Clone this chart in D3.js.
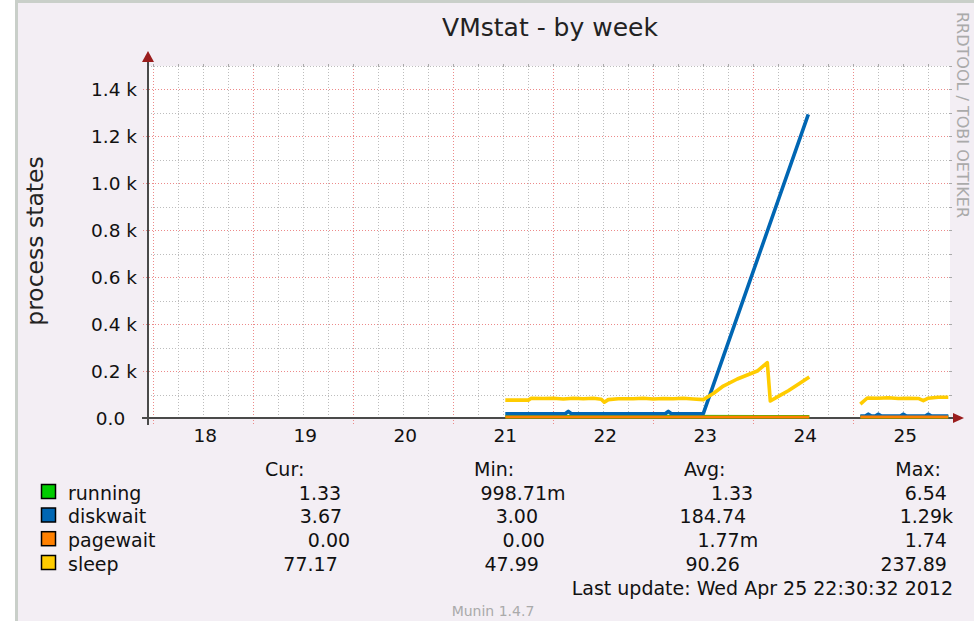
<!DOCTYPE html>
<html>
<head>
<meta charset="utf-8">
<script src="https://cdn.jsdelivr.net/npm/d3@7"></script>
<style>
  body { margin: 0; background: #fff; }
  text { font-family: "DejaVu Sans", sans-serif; }
</style>
</head>
<body>
<div id="chart"></div>
<script>
const dayTicks = [18, 19, 20, 21, 22, 23, 24, 25];
const valueTicks = [0, 200, 400, 600, 800, 1000, 1200, 1400];
const seriesNames = ["running", "diskwait", "pagewait", "sleep"];
const seriesColors = ["#00cc00", "#0066b3", "#ff8000", "#ffcc00"];
const columnHeads = ["Cur:", "Min:", "Avg:", "Max:"];
const curValues = [1.33, 3.67, 0, 77.17];
const minValues = [0.99871, 3.00, 0, 47.99];
const avgValues = [1.33, 184.74, 0.00177, 90.26];
const maxValues = [6.54, 1290, 1.74, 237.89];
const lastUpdate = "Last update: Wed Apr 25 22:30:32 2012";

// [day of month, value]; null = no data
const running = [[21.02, 1.3], [22.5, 1.4], [24.06, 1.3], [24.3, null], [24.57, 1.3], [25.45, 1.33]];
const diskwait = [
  [21.02, 14], [21.62, 14], [21.65, 24], [21.68, 14], [22.62, 14], [22.65, 24], [22.68, 14],
  [23.0, 14], [24.05, 1290], [24.3, null],
  [24.57, 3.7], [24.62, 3.7], [24.65, 12], [24.68, 3.7], [24.72, 3.7], [24.75, 12], [24.78, 3.7],
  [24.97, 3.7], [25.0, 12], [25.03, 3.7], [25.22, 3.7], [25.25, 12], [25.28, 3.7], [25.45, 3.67]
];
const pagewait = [[21.02, 0], [24.06, 0], [24.3, null], [24.57, 0], [25.45, 0]];
const sleep = [
  [21.02, 72], [21.25, 72], [21.28, 80], [21.4, 79], [21.5, 80], [21.6, 77], [21.7, 80],
  [21.8, 78], [21.9, 80], [21.98, 76], [22.01, 63], [22.05, 74], [22.15, 78], [22.3, 78],
  [22.4, 80], [22.5, 77], [22.6, 79], [22.7, 78], [22.8, 80], [22.9, 77], [23.0, 74],
  [23.1, 100], [23.2, 132], [23.34, 162], [23.54, 196], [23.64, 232], [23.67, 68],
  [23.75, 88], [23.85, 112], [23.95, 140], [24.06, 170], [24.3, null],
  [24.57, 55], [24.64, 81], [24.75, 80], [24.85, 82], [24.95, 79], [25.05, 80], [25.15, 79],
  [25.2, 70], [25.25, 80], [25.35, 84], [25.45, 84]
];
const seriesData = [running, diskwait, pagewait, sleep];

const width = 974, height = 621;
const plot = {left: 148, right: 950, top: 66, bottom: 418};

const svg = d3.select("#chart").append("svg")
    .attr("width", width)
    .attr("height", height)
    .style("display", "block");

// frame + background
svg.append("rect").attr("x", 15).attr("y", 0).attr("width", width - 15).attr("height", height).attr("fill", "#c9cfc9");
svg.append("rect").attr("x", 18).attr("y", 3).attr("width", width - 18).attr("height", height - 3).attr("fill", "#f3eef4");

const x = d3.scaleLinear().domain([17.447, 25.467]).range([plot.left, plot.right]);
const y = d3.scaleLinear().domain([0, 1500]).range([plot.bottom, plot.top]);

svg.append("rect")
    .attr("x", plot.left).attr("y", plot.top)
    .attr("width", plot.right - plot.left).attr("height", plot.bottom - plot.top)
    .attr("fill", "#fff");

// grid
const grid = svg.append("g").attr("stroke-width", 1).attr("stroke-dasharray", "1,2");
const minorX = d3.range(17.5, 25.5, 0.25).filter(d => Math.abs(d % 1 - 0.5) > 0.01);
const majorX = d3.range(17.5, 25.4, 1);
const minorY = d3.range(100, 1501, 200);
const majorY = valueTicks.filter(v => v > 0);

grid.selectAll(".vx").data(minorX).join("line")
    .attr("x1", d => Math.round(x(d)) + 0.5).attr("x2", d => Math.round(x(d)) + 0.5)
    .attr("y1", plot.top).attr("y2", plot.bottom)
    .attr("stroke", "#bdbdbd");
grid.selectAll(".hy").data(minorY).join("line")
    .attr("x1", plot.left).attr("x2", plot.right)
    .attr("y1", d => Math.round(y(d)) + 0.5).attr("y2", d => Math.round(y(d)) + 0.5)
    .attr("stroke", "#bdbdbd");
grid.selectAll(".vX").data(majorX).join("line")
    .attr("x1", d => Math.round(x(d)) + 0.5).attr("x2", d => Math.round(x(d)) + 0.5)
    .attr("y1", plot.top).attr("y2", plot.bottom + 6)
    .attr("stroke", "#ec8a8a");
grid.selectAll(".hY").data(majorY).join("line")
    .attr("x1", plot.left - 5).attr("x2", plot.right)
    .attr("y1", d => Math.round(y(d)) + 0.5).attr("y2", d => Math.round(y(d)) + 0.5)
    .attr("stroke", "#ec8a8a");

// small solid ticks at the grid ends
const ticks = svg.append("g").attr("stroke", "#aaa").attr("stroke-width", 1);
ticks.selectAll(".t1").data(minorX.concat(majorX)).join("line")
    .attr("x1", d => Math.round(x(d)) + 0.5).attr("x2", d => Math.round(x(d)) + 0.5)
    .attr("y1", plot.top - 2).attr("y2", plot.top + 1);
ticks.selectAll(".t2").data(minorY.concat(majorY)).join("line")
    .attr("x1", plot.right - 1).attr("x2", plot.right + 2)
    .attr("y1", d => Math.round(y(d)) + 0.5).attr("y2", d => Math.round(y(d)) + 0.5);

// axes
const axisColor = "#4a4a4a", arrowColor = "#9a1d1d";
svg.append("line")
    .attr("x1", plot.left - 6).attr("x2", plot.right + 4)
    .attr("y1", plot.bottom).attr("y2", plot.bottom)
    .attr("stroke", axisColor).attr("stroke-width", 2);
svg.append("line")
    .attr("x1", plot.left).attr("x2", plot.left)
    .attr("y1", plot.bottom + 7).attr("y2", plot.top - 8)
    .attr("stroke", axisColor).attr("stroke-width", 2);
svg.append("path")
    .attr("d", `M${plot.right + 3},${plot.bottom - 5}L${plot.right + 14},${plot.bottom}L${plot.right + 3},${plot.bottom + 5}Z`)
    .attr("fill", arrowColor);
svg.append("path")
    .attr("d", `M${plot.left - 6},${plot.top - 4}L${plot.left},${plot.top - 15}L${plot.left + 6},${plot.top - 4}Z`)
    .attr("fill", arrowColor);

// tick labels
svg.append("g").selectAll("text").data(dayTicks).join("text")
    .attr("x", d => x(d) + 2)
    .attr("y", plot.bottom + 24)
    .attr("text-anchor", "middle")
    .attr("font-size", 18.5)
    .attr("fill", "#111")
    .text(d => d);

svg.append("g").selectAll("text").data(valueTicks).join("text")
    .attr("xml:space", "preserve")
    .style("white-space", "pre")
    .attr("x", plot.left - 11)
    .attr("y", d => y(d) + 6.5)
    .attr("text-anchor", "end")
    .attr("font-size", 18.5)
    .attr("fill", "#111")
    .text(d => d === 0 ? "0.0  " : (d / 1000).toFixed(1) + " k");

// titles
svg.append("text")
    .attr("x", (plot.left + plot.right) / 2 + 1)
    .attr("y", 36)
    .attr("text-anchor", "middle")
    .attr("font-size", 25)
    .attr("fill", "#222")
    .text("VMstat - by week");

svg.append("text")
    .attr("transform", `translate(43,${(plot.top + plot.bottom) / 2 - 1}) rotate(-90)`)
    .attr("text-anchor", "middle")
    .attr("font-size", 23.5)
    .attr("fill", "#222")
    .text("process states");

svg.append("text")
    .attr("transform", "translate(957,12) rotate(90)")
    .attr("font-size", 16)
    .attr("fill", "#aaa")
    .text("RRDTOOL / TOBI OETIKER");

// series
const line = d3.line()
    .defined(d => d[1] != null)
    .x(d => x(d[0]))
    .y(d => y(d[1]) - 1);

svg.append("g")
    .attr("fill", "none")
    .attr("stroke-linejoin", "round")
    .selectAll("path").data(seriesData).join("path")
    .attr("stroke", (d, i) => seriesColors[i])
    .attr("stroke-width", (d, i) => i === 2 ? 3 : 3.6)
    .attr("d", line);

// legend, justified like rrdtool's \j
function rrdFmt(v) {
  let s = " ", n = v;
  if (v >= 1000) { n = v / 1000; s = "k"; }
  else if (v > 0 && v < 1) { n = v * 1000; s = "m"; }
  return n.toFixed(2).padStart(6, " ") + s;
}

const legend = svg.append("g").attr("font-size", 19).attr("fill", "#111");
const legendRight = 953;

function justify(items, x0, x1, yPos) {
  const nodes = items.map(s => legend.append("text")
      .attr("xml:space", "preserve")
      .style("white-space", "pre")
      .attr("y", yPos)
      .text(s));
  const w = nodes.map(n => n.node().getComputedTextLength());
  const gap = (x1 - x0 - d3.sum(w)) / (items.length - 1);
  let cx = x0;
  nodes.forEach((n, i) => { n.attr("x", cx); cx += w[i] + gap; });
}

const rowY = [499.5, 523, 546.7, 570.5];
justify([" ".repeat(8), " " + columnHeads[0]].concat(columnHeads.slice(1, 3), [columnHeads[3] + "  "]), 41, legendRight, 476);

seriesNames.forEach((name, i) => {
  legend.append("rect")
      .attr("x", 41.5).attr("y", rowY[i] - 15)
      .attr("width", 14).attr("height", 14)
      .attr("fill", seriesColors[i])
      .attr("stroke", "#000").attr("stroke-width", 1.5);
  justify([name.padEnd(9, " "), rrdFmt(curValues[i]), rrdFmt(minValues[i]), rrdFmt(avgValues[i]), rrdFmt(maxValues[i])],
      68, legendRight, rowY[i]);
});

legend.append("text")
    .attr("x", legendRight)
    .attr("y", 595)
    .attr("text-anchor", "end")
    .text(lastUpdate);

svg.append("text")
    .attr("x", 493)
    .attr("y", 616)
    .attr("text-anchor", "middle")
    .attr("font-size", 14)
    .attr("fill", "#aaa")
    .text("Munin 1.4.7");
</script>
</body>
</html>
